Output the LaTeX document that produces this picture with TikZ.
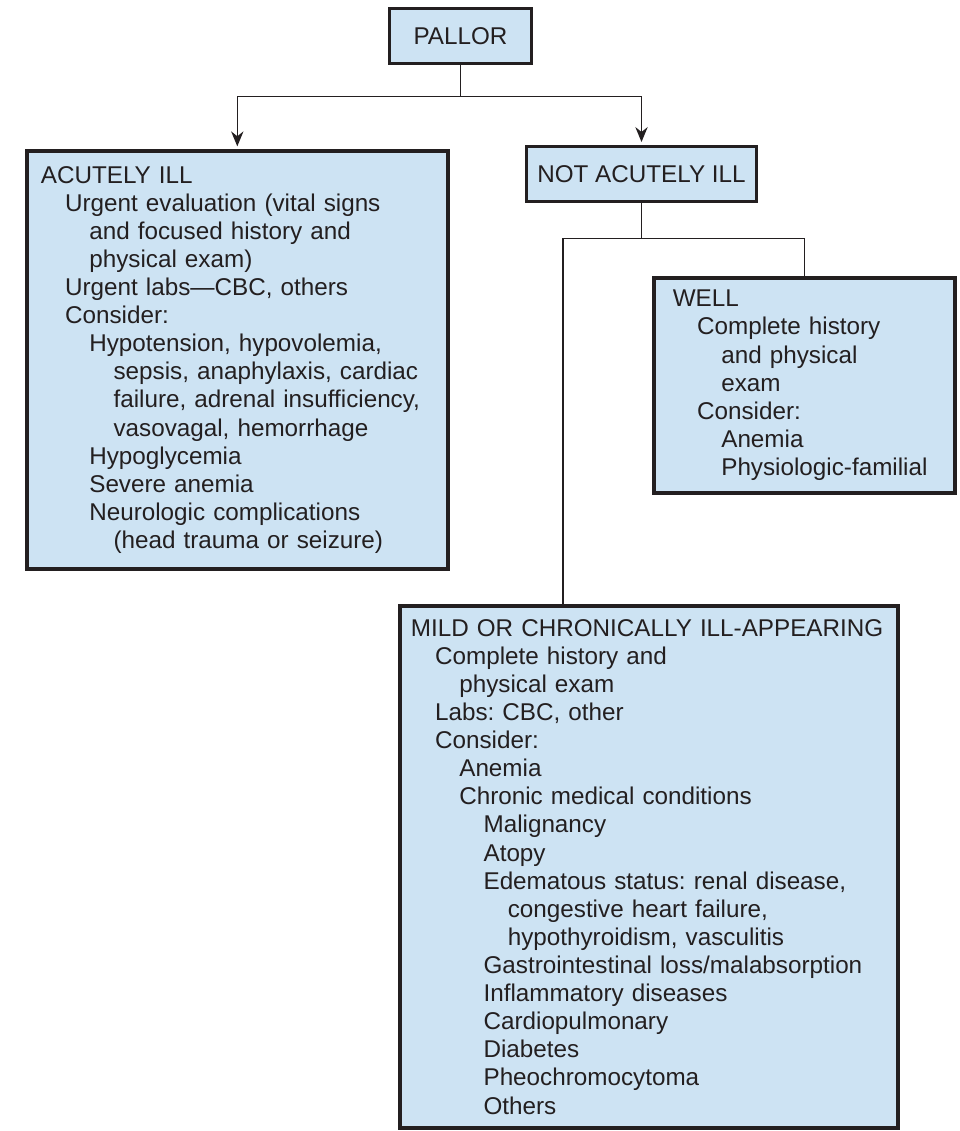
\documentclass[tikz,border=0pt]{standalone}
\usepackage{fontspec}
\setmainfont{Liberation Sans}
\usetikzlibrary{calc,arrows.meta}
\definecolor{boxblue}{RGB}{205,227,243}
\definecolor{ink}{RGB}{35,31,32}
\newcommand{\lvl}[1]{\hspace*{#1em}}
\frenchspacing

\begin{document}
\begin{tikzpicture}[x=0.02cm, y=-0.02cm,
  box/.style={draw=ink, line width=2.1pt, fill=boxblue, text=ink,
    font=\fontsize{13.8}{16}\selectfont},
  listbox/.style={box, anchor=north west, align=left, inner xsep=0.28cm, inner ysep=0pt},
  link/.style={draw=ink, line width=0.8pt},
  arrow/.style={link, -{Stealth[length=8.5pt,width=7pt]}, shorten >=1.5pt}]
  \useasboundingbox (0,0) rectangle (959,1131);

  % boxes, placed in pixel units of the figure
  \node[box, minimum width=2.84cm, minimum height=1.1cm] (pallor) at (460.5,36) {PALLOR};
  \node[box, minimum width=4.6cm, minimum height=1.1cm] (notacute) at (641.5,174) {NOT ACUTELY ILL};

  \node[listbox, text width=7.86cm, minimum height=8.36cm] (acute) at (25,149) {%
    ACUTELY ILL\\
    \lvl{1}Urgent evaluation (vital signs\\
    \lvl{2}and focused history and\\
    \lvl{2}physical exam)\\
    \lvl{1}Urgent labs—CBC, others\\
    \lvl{1}Consider:\\
    \lvl{2}Hypotension, hypovolemia,\\
    \lvl{3}sepsis, anaphylaxis, cardiac\\
    \lvl{3}failure, adrenal insufficiency,\\
    \lvl{3}vasovagal, hemorrhage\\
    \lvl{2}Hypoglycemia\\
    \lvl{2}Severe anemia\\
    \lvl{2}Neurologic complications\\
    \lvl{3}(head trauma or seizure)};

  \node[listbox, inner xsep=0.38cm, text width=5.26cm, minimum height=4.3cm] (well) at (652,276) {%
    WELL\\
    \lvl{1}Complete history\\
    \lvl{2}and physical\\
    \lvl{2}exam\\
    \lvl{1}Consider:\\
    \lvl{2}Anemia\\
    \lvl{2}Physiologic-familial};

  \node[listbox, inner xsep=0.22cm, text width=9.52cm, minimum height=10.44cm] (mild) at (398,604) {%
    \mbox{MILD OR CHRONICALLY ILL-APPEARING}\\
    \lvl{1}Complete history and\\
    \lvl{2}physical exam\\
    \lvl{1}Labs: CBC, other\\
    \lvl{1}Consider:\\
    \lvl{2}Anemia\\
    \lvl{2}Chronic medical conditions\\
    \lvl{3}Malignancy\\
    \lvl{3}Atopy\\
    \lvl{3}Edematous status: renal disease,\\
    \lvl{4}congestive heart failure,\\
    \lvl{4}hypothyroidism, vasculitis\\
    \lvl{3}Gastrointestinal loss/malabsorption\\
    \lvl{3}Inflammatory diseases\\
    \lvl{3}Cardiopulmonary\\
    \lvl{3}Diabetes\\
    \lvl{3}Pheochromocytoma\\
    \lvl{3}Others};

  % connectors
  \coordinate (split) at ($(pallor.south)+(0,31)$);
  \draw[arrow] (pallor.south) -- (split) -| (acute.north);
  \draw[arrow] (split) -| (notacute.north);

  \coordinate (fork) at ($(notacute.south)+(0,35)$);
  \coordinate (mildtop) at (563,604);
  \draw[link] (notacute.south) -- (fork) -| (well.north);
  \draw[link] (fork) -| (mildtop);
\end{tikzpicture}
\end{document}
